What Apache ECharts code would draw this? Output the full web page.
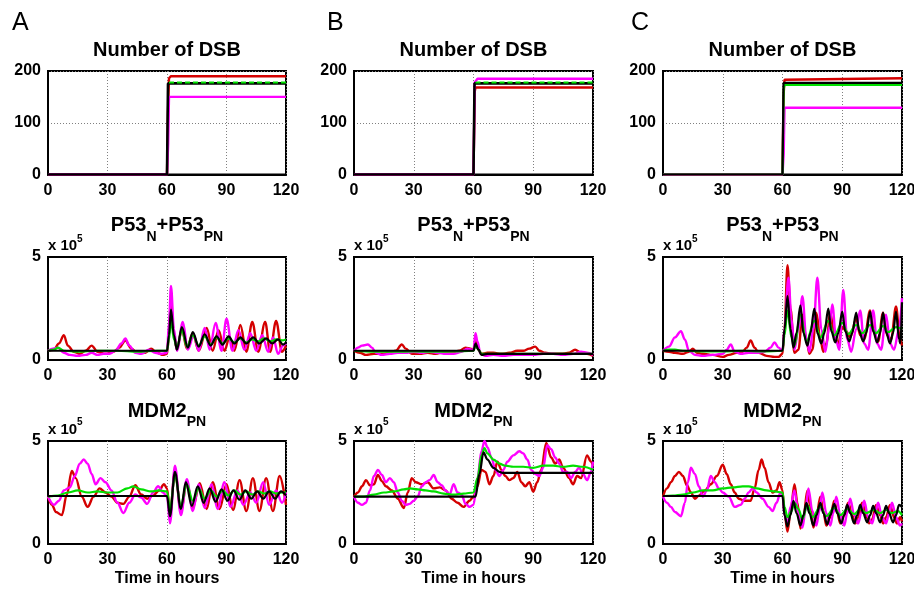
<!DOCTYPE html>
<html><head><meta charset="utf-8">
<script src="https://cdn.jsdelivr.net/npm/echarts@6/dist/echarts.min.js"></script>
<style>html,body{margin:0;padding:0;background:#fff}#c{width:914px;height:591px}</style>
</head><body><div id="c"></div>
<script>
// ---------- tick / label data ----------
const timeTicks = [0, 30, 60, 90, 120];
const dsbRange = [0, 200, 100];      // min, max, interval
const concRange = [0, 5, 5];         // in units of 1e5
const panelLetters = ['A', 'B', 'C'];
const rowTitles = ['Number of DSB', 'P53N+P53PN', 'MDM2PN'];
const xAxisName = 'Time in hours';

// ---------- Row 1: Number of DSB ----------
const A_dsb_red = [[0,0],[60,0],[60.5,120],[61,186],[62,190],[120,190]];
const A_dsb_mag = [[0,0],[60,0],[60.6,60],[61,150],[120,150]];
const A_dsb_blk = [[0,0],[60,0],[60.5,176],[120,176]];
const A_dsb_grn = [[61,178],[120,178]];

const B_dsb_red = [[0,0],[60,0],[60.6,160],[61,168],[120,168]];
const B_dsb_mag = [[0,0],[60,0],[60.6,178],[62,185],[120,185]];
const B_dsb_blk = [[0,0],[60,0],[60.5,176],[120,176]];
const B_dsb_grn = [[61,178],[120,178]];

const C_dsb_red = [[0,0],[60,0],[60.5,150],[61,183],[62,186],[120,186]];
const C_dsb_mag = [[0,0],[60,0],[60.6,40],[61,129],[120,129]];
const C_dsb_grn = [[0,0],[60,0],[60.6,165],[61,173],[120,173]];
const C_dsb_blk = [[0,0],[60,0],[60.5,177],[120,177]];

// ---------- Row 2: P53N + P53PN (x 1e5) ----------
const A_p53_red = [[0,0.45],[3,0.5],[5.5,0.8],[8,1.2],[10,0.7],[13,0.4],[16,0.3],[19,0.45],[22,0.7],[25,0.4],[29,0.3],[33,0.4],[36,0.6],[39,0.95],[42,0.55],[45,0.35],[49,0.35],[52,0.55],[55,0.35],[58,0.25],[60,0.3],[61,1.2],[62,2.7],[63.5,1.2],[65,0.5],[67.5,1.5],[70,0.55],[73,1.3],[76,0.45],[80,1.55],[83,0.45],[86,1.45],[89,0.45],[91.5,1.1],[94,0.45],[97,1.7],[100,0.4],[103,1.85],[106,0.4],[109.5,1.85],[112,0.4],[115,1.9],[118,0.4],[120,0.7]];
const A_p53_mag = [[0,0.45],[2.5,0.55],[5,0.6],[8,0.35],[11,0.25],[15,0.2],[19,0.25],[22,0.35],[25,0.25],[28,0.3],[31,0.3],[34,0.45],[37,0.8],[39,1.05],[41,0.7],[44,0.35],[47,0.3],[51,0.5],[54,0.35],[57,0.3],[60,0.35],[61,1.8],[62,3.6],[63.5,1.5],[65,0.45],[68,1.85],[70.5,0.5],[73.5,1.2],[76,0.45],[79,1.55],[81.5,0.5],[84.5,1.8],[87.5,0.45],[90,2.0],[93,0.45],[96,1.45],[99,0.5],[102,1.3],[105,0.45],[108,1.2],[111,0.4],[113.5,1.1],[116,0.3],[118.5,0.7],[120,0.8]];
const A_p53_grn = [[0,0.45],[3,0.5],[5,0.6],[8,0.45],[15,0.4],[25,0.45],[35,0.45],[45,0.4],[55,0.45],[60,0.45],[61,1.0],[62,2.0],[63.5,1.0],[65,0.6],[67.5,1.45],[70,0.65],[73,1.2],[76,0.7],[79,1.15],[82,0.75],[85,1.1],[88,0.8],[91,1.05],[94,0.85],[97,1.05],[100,0.85],[103,1.0],[106,0.9],[109,1.05],[112,0.9],[115,1.0],[118,0.95],[120,1.0]];
const A_p53_blk = [[0,0.45],[60,0.45],[61,1.2],[62,2.45],[63.5,1.2],[65,0.5],[67.5,1.6],[70.5,0.6],[73,1.35],[76,0.65],[79,1.25],[82,0.7],[85,1.15],[88,0.75],[91,1.15],[94,0.8],[97,1.1],[100,0.8],[103.5,1.1],[106.5,0.8],[110,1.05],[113,0.8],[116,1.0],[118.5,0.75],[120,0.85]];

const B_p53_red = [[0,0.45],[3,0.35],[6,0.25],[10,0.3],[14,0.3],[18,0.35],[21,0.45],[24,0.75],[26,0.55],[29,0.3],[33,0.3],[37,0.35],[41,0.3],[45,0.4],[49,0.35],[53,0.45],[56,0.6],[58.5,0.55],[60,0.5],[61,0.9],[62.5,0.5],[64,0.3],[67,0.35],[70,0.35],[74,0.3],[78,0.35],[82,0.45],[85,0.45],[88,0.55],[91,0.65],[93,0.45],[96,0.35],[100,0.3],[104,0.3],[108,0.35],[111,0.5],[114,0.35],[117,0.3],[120,0.2]];
const B_p53_mag = [[0,0.45],[2,0.6],[4,0.7],[7,0.75],[9,0.6],[11,0.35],[14,0.25],[18,0.3],[22,0.35],[26,0.35],[30,0.4],[34,0.35],[38,0.4],[42,0.35],[46,0.3],[50,0.3],[54,0.4],[57,0.55],[59,0.5],[60,0.5],[61,1.3],[62,0.9],[63.5,0.3],[66,0.2],[70,0.25],[75,0.2],[80,0.25],[85,0.25],[90,0.25],[95,0.3],[100,0.3],[105,0.25],[110,0.3],[114,0.4],[117,0.35],[120,0.25]];
const B_p53_grn = [[0,0.45],[10,0.4],[20,0.4],[30,0.42],[40,0.4],[50,0.42],[60,0.45],[61,0.7],[62.5,0.5],[64,0.3],[70,0.3],[80,0.3],[90,0.3],[100,0.3],[110,0.3],[120,0.3]];
const B_p53_blk = [[0,0.45],[60,0.45],[61,0.8],[62.5,0.5],[64,0.25],[67,0.3],[120,0.3]];

const C_p53_red = [[0,0.45],[3,0.4],[6,0.35],[10,0.3],[13,0.4],[15,0.55],[17,0.35],[20,0.3],[25,0.25],[30,0.15],[33,0.25],[37,0.35],[40,0.4],[42,0.6],[44,0.95],[46,0.6],[48,0.35],[52,0.2],[56,0.15],[58,0.15],[60,0.3],[61,1.5],[62.5,4.6],[64,2.5],[66,0.35],[68,0.5],[70,2.2],[72,1.0],[73.5,0.3],[75,0.5],[77,2.3],[79,1.0],[80.5,0.4],[82,0.8],[84,2.3],[86,1.2],[88,0.8],[90,1.6],[92,1.4],[94,1.1],[97,2.0],[99,1.2],[101,1.0],[104,2.4],[106,1.3],[108,0.9],[110.5,2.3],[112.5,1.2],[114.5,1.0],[117,2.6],[119,1.0],[120,0.7]];
const C_p53_mag = [[0,0.45],[3,0.65],[6,1.1],[9,1.4],[11,1.0],[13,0.45],[16,0.25],[20,0.2],[25,0.25],[30,0.3],[32,0.5],[34,0.75],[36,0.4],[39,0.3],[43,0.35],[47,0.35],[51,0.4],[54,0.6],[56,0.85],[58,0.6],[60,0.45],[61,1.5],[63,4.0],[64.5,2.0],[66,0.5],[68,1.5],[70,3.1],[72,1.0],[73.5,0.4],[75.5,1.5],[77.5,4.0],[79.5,1.5],[81.5,0.4],[83.5,1.6],[85,2.7],[87,0.9],[88.5,0.5],[90.5,3.4],[92.5,1.0],[94.5,0.4],[97,1.5],[99,2.4],[101,0.8],[103,0.5],[105.5,2.4],[107.5,0.8],[109.5,0.5],[112,2.2],[114,0.8],[116,0.5],[118.5,1.5],[120,3.0]];
const C_p53_grn = [[0,0.45],[3,0.5],[6,0.5],[10,0.45],[20,0.42],[30,0.42],[40,0.45],[50,0.42],[60,0.45],[61,1.2],[62.5,2.4],[64.5,1.1],[66,0.7],[69,2.2],[72,0.9],[76,1.9],[79,1.1],[83,1.9],[86,1.2],[90,1.8],[93,1.25],[97,1.7],[100,1.3],[104,1.7],[107,1.3],[110.5,1.65],[113,1.35],[117,1.6],[120,1.5]];
const C_p53_blk = [[0,0.45],[60,0.45],[61,1.5],[62.5,3.1],[64,1.5],[65.5,0.6],[67,1.3],[69,2.65],[70.5,1.3],[72.5,0.7],[74,1.3],[76,2.5],[77.5,1.3],[79.5,0.8],[81,1.3],[83,2.5],[84.5,1.4],[86.5,0.85],[88,1.3],[90,2.35],[91.5,1.4],[93.5,0.9],[95,1.3],[97,2.3],[98.5,1.4],[100.5,0.9],[102,1.3],[104,2.35],[105.5,1.4],[107.5,0.85],[109,1.3],[110.5,2.3],[112,1.35],[114,0.8],[115.5,1.3],[117,2.35],[118.5,1.0],[119.2,0.8],[120,2.8]];

// ---------- Row 3: MDM2PN (x 1e5) ----------
const A_mdm_red = [[0,2.3],[2,1.9],[4,1.55],[7,1.4],[9.5,2.4],[12,3.55],[14,3.2],[17,2.3],[20,1.8],[23,2.3],[26,2.7],[29,2.5],[32,2.3],[35,2.0],[38,1.95],[41,2.3],[44,2.85],[47,2.4],[50,2.2],[53,2.35],[56,2.6],[58.5,2.9],[60,2.7],[61.5,1.5],[64,3.55],[67,1.6],[70,3.0],[73,1.75],[76.5,2.95],[80,1.7],[83,3.0],[86.5,1.7],[90,2.9],[93.3,1.65],[96.6,3.1],[100,1.6],[103.3,3.2],[106.6,1.6],[110,3.2],[113.4,1.6],[116.8,3.3],[120,1.9]];
const A_mdm_mag = [[0,2.3],[3,1.9],[5.5,2.1],[8,2.6],[11,2.75],[13.5,3.3],[16,3.9],[18,4.1],[20,3.9],[22,3.4],[24,2.9],[26.5,3.2],[29,3.0],[32,2.6],[35,2.0],[38,1.5],[41,2.0],[44,2.4],[47,2.25],[50,1.95],[53,2.5],[55.5,2.8],[58,2.5],[60,2.3],[61.5,1.0],[64,3.8],[67,1.4],[70,3.15],[73,1.6],[76,2.9],[79,1.75],[82.5,2.9],[85.5,1.7],[89,3.0],[92,1.8],[95.5,2.6],[98.5,1.9],[102,2.5],[105,2.0],[108.5,3.0],[111.5,1.9],[115,2.6],[118,2.0],[120,2.5]];
const A_mdm_grn = [[0,2.3],[5,2.35],[10,2.5],[15,2.6],[20,2.5],[25,2.55],[30,2.5],[35,2.5],[40,2.7],[43,2.8],[47,2.65],[52,2.55],[56,2.6],[60,2.55],[61.5,1.7],[64,3.3],[67,1.9],[70,2.9],[73,2.1],[76,2.7],[79,2.2],[82,2.6],[85,2.3],[88,2.6],[91,2.35],[94,2.6],[97,2.4],[100,2.55],[103,2.4],[106,2.55],[109,2.45],[112,2.55],[115,2.45],[118,2.5],[120,2.5]];
const A_mdm_blk = [[0,2.33],[60,2.33],[61.5,1.35],[64,3.5],[67,1.7],[69.5,3.0],[72.5,1.85],[75.5,2.8],[78.5,2.0],[81.5,2.7],[84.5,2.05],[87.5,2.65],[90.5,2.1],[93.5,2.6],[96.5,2.15],[99.5,2.6],[102.5,2.2],[105.5,2.55],[108.5,2.2],[111.5,2.55],[114.5,2.2],[117.5,2.55],[120,2.35]];

const B_mdm_red = [[0,2.3],[2,2.5],[4,2.8],[6,3.1],[8,2.85],[10,2.9],[12,3.35],[14,3.05],[16,2.8],[19,2.6],[22,2.2],[25,1.75],[27,2.5],[29,3.2],[31,3.0],[34,2.9],[37,3.0],[40,2.7],[43,2.75],[46,2.6],[49,2.2],[52,2.0],[55,1.8],[58,2.1],[60,2.3],[62,2.8],[64,3.6],[66,3.5],[68,2.9],[70,3.3],[72,4.0],[74,3.6],[76,3.3],[78,3.1],[80,3.2],[82,3.5],[84,3.0],[86,2.8],[88,3.0],[90,2.55],[92,3.0],[94,3.6],[96.5,4.9],[99,4.2],[101,3.9],[103,4.1],[105,3.7],[108,3.2],[110,2.9],[112,3.3],[114,3.2],[117,4.3],[119,4.0],[120,3.8]];
const B_mdm_mag = [[0,2.3],[2,2.0],[4,1.9],[6,2.0],[8,2.6],[10,3.3],[12,3.6],[14,3.35],[16,3.0],[18,3.2],[20,3.0],[22,2.5],[24,2.1],[26,1.9],[28,1.95],[30,2.1],[32,2.3],[34,2.8],[36,3.0],[38,3.1],[40,3.35],[42,3.0],[44,2.85],[46,2.6],[48,2.4],[50,2.9],[52,2.5],[54,2.4],[56,1.95],[58,1.8],[60,1.9],[62,3.2],[64,4.5],[65.5,5.0],[67,4.7],[69,4.2],[71,3.6],[73,3.3],[75,3.6],[77,4.0],[80,4.3],[83,4.5],[85,4.4],[87,4.1],[89,3.6],[91,3.4],[93,3.3],[95,3.7],[97,4.8],[99,4.6],[101,4.2],[103,3.9],[105,3.5],[107,3.5],[109,3.2],[111,3.5],[113,3.7],[115,3.4],[117,3.1],[119,3.5],[120,4.0]];
const B_mdm_grn = [[0,2.3],[5,2.3],[10,2.4],[15,2.5],[20,2.55],[25,2.65],[28,2.7],[32,2.65],[36,2.6],[40,2.55],[45,2.45],[50,2.4],[55,2.45],[60,2.5],[62,3.2],[64,4.3],[65.5,4.65],[67,4.4],[70,4.1],[73,3.9],[76,3.8],[80,3.75],[85,3.75],[90,3.7],[95,3.8],[100,3.8],[105,3.75],[110,3.8],[115,3.75],[120,3.6]];
const B_mdm_blk = [[0,2.3],[61,2.3],[63,3.4],[65,4.45],[67,4.1],[70,3.7],[73,3.5],[75,3.45],[120,3.45]];

const C_mdm_red = [[0,2.3],[2,2.7],[4,3.0],[6,3.3],[8,3.5],[10,3.3],[12,2.85],[14,2.5],[16,2.2],[18,2.35],[21,2.6],[24,2.9],[27,3.3],[30,3.85],[32,3.4],[34,2.9],[36,2.5],[38,2.2],[41,2.1],[44,2.1],[46,2.7],[48,3.6],[49.5,4.1],[51,3.7],[53,3.0],[55,2.5],[57,2.6],[58.5,3.0],[60,2.6],[61,1.5],[62.5,0.6],[64,1.5],[66,2.9],[67.5,2.0],[69,0.75],[70.5,1.3],[72.5,2.6],[74,1.8],[75.5,0.8],[77,1.3],[79,2.3],[80.5,1.6],[82,0.9],[84,1.3],[86,2.1],[87.5,1.5],[89,1.0],[91,1.4],[93,2.0],[95,1.4],[96.5,1.0],[98,1.3],[100,2.0],[102,1.4],[103.5,1.0],[105,1.2],[107,1.9],[109,1.4],[110.5,1.0],[112,1.3],[114,1.9],[116,1.3],[117.5,1.0],[119,1.3],[120,1.1]];
const C_mdm_mag = [[0,2.3],[2,2.0],[4,1.8],[6,1.55],[9,1.35],[11,2.0],[12.5,3.0],[14,3.7],[16,3.4],[18,2.8],[20,2.3],[22,2.6],[24,3.3],[26,3.0],[28,2.7],[30,2.5],[33,2.3],[36,1.8],[39,1.9],[41,2.2],[43,2.5],[45,2.7],[47,2.5],[50,2.2],[53,1.8],[55,1.6],[57,2.0],[59,2.5],[60,2.4],[61,1.4],[62.5,1.0],[64,1.8],[66,2.6],[68,1.5],[70,0.8],[71.5,1.6],[73,2.7],[75,1.6],[77,0.9],[78.5,1.6],[80,2.5],[82,1.5],[84,0.9],[85.5,1.5],[87,2.3],[89,1.4],[91,0.9],[92.5,1.5],[94,2.2],[96,1.4],[98,1.0],[99.5,1.5],[101,2.1],[103,1.3],[105,1.0],[106.5,1.5],[108,2.0],[110,1.3],[112,1.0],[113.5,1.5],[115,2.0],[117,1.3],[119,0.9],[120,1.0]];
const C_mdm_grn = [[0,2.33],[5,2.35],[10,2.4],[15,2.5],[20,2.6],[25,2.6],[30,2.7],[35,2.75],[40,2.8],[43,2.8],[47,2.7],[52,2.6],[56,2.55],[60,2.5],[61,1.8],[62.5,1.3],[64.5,1.6],[66,2.0],[68,1.7],[70,1.2],[72.5,1.9],[75,1.3],[79,1.8],[82,1.35],[86,1.75],[89,1.4],[92.5,1.7],[96,1.45],[99,1.7],[102,1.5],[106,1.65],[109,1.5],[112,1.65],[115,1.5],[118,1.6],[120,1.4]];
const C_mdm_blk = [[0,2.33],[60,2.33],[61,1.4],[62.5,0.85],[64,1.4],[65.5,2.1],[67,1.5],[69,0.9],[70.5,1.4],[72,2.0],[73.5,1.5],[75.5,0.9],[77,1.4],[79,2.0],[80.5,1.5],[82.5,0.95],[84,1.4],[86,1.95],[87.5,1.5],[89.5,1.0],[91,1.4],[92.5,1.9],[94,1.5],[96,1.0],[97.5,1.4],[99,1.9],[100.5,1.5],[102.5,1.05],[104,1.4],[105.5,1.85],[107,1.5],[109,1.05],[110.5,1.4],[112,1.85],[113.5,1.5],[115.5,1.05],[117,1.4],[118.5,1.9],[120,1.8]];

// ---------- layout / style ----------
const FONT = 'Arial, "Liberation Sans", Helvetica, sans-serif';
const COL = { red: '#d40000', mag: '#ff00ff', grn: '#00e000', blk: '#000000' };
const colLeft = [48, 354, 663];
const colWidth = [238, 239, 239];
const rowTop = [71, 257, 441];
const rowHeight = [103.5, 103, 103];

const panels = [
  [ {red:A_dsb_red, mag:A_dsb_mag, blk:A_dsb_blk, grn:A_dsb_grn, dsb:true},
    {red:A_p53_red, mag:A_p53_mag, grn:A_p53_grn, blk:A_p53_blk},
    {red:A_mdm_red, mag:A_mdm_mag, grn:A_mdm_grn, blk:A_mdm_blk} ],
  [ {red:B_dsb_red, mag:B_dsb_mag, blk:B_dsb_blk, grn:B_dsb_grn, dsb:true},
    {red:B_p53_red, mag:B_p53_mag, grn:B_p53_grn, blk:B_p53_blk},
    {red:B_mdm_red, mag:B_mdm_mag, grn:B_mdm_grn, blk:B_mdm_blk} ],
  [ {red:C_dsb_red, mag:C_dsb_mag, grn:C_dsb_grn, blk:C_dsb_blk, dsb:true, greenUnder:true},
    {red:C_p53_red, mag:C_p53_mag, grn:C_p53_grn, blk:C_p53_blk},
    {red:C_mdm_red, mag:C_mdm_mag, grn:C_mdm_grn, blk:C_mdm_blk} ]
];

const grids = [], xAxes = [], yAxes = [], series = [], graphics = [];
const labelStyle = { fontSize: 16, fontWeight: 'bold', color: '#000', fontFamily: FONT };
const dotted = { color: '#808080', width: 1, type: [1, 2] };

for (let c = 0; c < 3; c++) {
  for (let r = 0; r < 3; r++) {
    const gi = grids.length;
    const p = panels[c][r];
    grids.push({ left: colLeft[c], top: rowTop[r], width: colWidth[c], height: rowHeight[r],
      show: true, borderColor: '#000', borderWidth: 2, backgroundColor: 'transparent',
      containLabel: false, outerBoundsMode: 'none' });
    xAxes.push({ type: 'value', gridIndex: gi, min: timeTicks[0], max: timeTicks[timeTicks.length - 1],
      interval: timeTicks[1] - timeTicks[0],
      axisLine: { show: true, onZero: false, lineStyle: { color: '#000', width: 2 } },
      axisTick: { show: false },
      axisLabel: Object.assign({ margin: 8 }, labelStyle),
      splitLine: { show: true, lineStyle: dotted } });
    const rng = r === 0 ? dsbRange : concRange;
    yAxes.push({ type: 'value', gridIndex: gi, min: rng[0], max: rng[1], interval: rng[2],
      axisLine: { show: true, lineStyle: { color: '#000', width: 2 } },
      axisTick: { show: false },
      axisLabel: Object.assign({ margin: 7 }, labelStyle),
      splitLine: { show: r === 0, lineStyle: dotted } });
    const base = { type: 'line', xAxisIndex: gi, yAxisIndex: gi, showSymbol: false, symbol: 'none',
      animation: false, silent: true, smooth: p.dsb ? false : 0.35, smoothMonotone: 'x' };
    const add = (d, color, w, extra) => series.push(Object.assign({}, base, { data: d,
      lineStyle: Object.assign({ color: color, width: w }, extra || {}), itemStyle: { color: color } }));
    add(p.red, COL.red, 2.4);
    add(p.mag, COL.mag, 2.4);
    if (p.dsb && !p.greenUnder) {
      add(p.blk, COL.blk, 2.6);
      add(p.grn, COL.grn, 2, { type: [5, 3] });
    } else {
      add(p.grn, COL.grn, 2.2);
      add(p.blk, COL.blk, 2.2);
    }
  }
}

// text elements
const cx = c => colLeft[c] + colWidth[c] / 2;
for (let c = 0; c < 3; c++) {
  graphics.push({ type: 'text', x: [12, 327, 631][c], y: 23.5, silent: true,
    style: { text: panelLetters[c], fontSize: 25, fontFamily: FONT, fill: '#000', align: 'left', verticalAlign: 'middle' } });
  graphics.push({ type: 'text', x: cx(c), y: 50, silent: true,
    style: { text: rowTitles[0], fontSize: 20, fontWeight: 'bold', fontFamily: FONT, fill: '#000', align: 'center', verticalAlign: 'middle' } });
  const bRich = { fontSize: 20, fontWeight: 'bold', fontFamily: FONT, lineHeight: 20, verticalAlign: 'top' };
  graphics.push({ type: 'text', x: cx(c), y: 215, silent: true,
    style: { text: '{b|P53}{s|N}{b|+P53}{s|PN}', fill: '#000', align: 'center', verticalAlign: 'top',
      rich: { b: bRich, s: { fontSize: 14, fontWeight: 'bold', fontFamily: FONT, lineHeight: 45, verticalAlign: 'middle' } } } });
  graphics.push({ type: 'text', x: cx(c), y: 401, silent: true,
    style: { text: '{b|MDM2}{s|PN}', fill: '#000', align: 'center', verticalAlign: 'top',
      rich: { b: bRich, s: { fontSize: 14, fontWeight: 'bold', fontFamily: FONT, lineHeight: 43, verticalAlign: 'middle' } } } });
  [[246, 239.5], [430, 422.5]].forEach(([y1, y2]) => {
    graphics.push({ type: 'text', x: colLeft[c], y: y1, silent: true,
      style: { text: 'x 10', fontSize: 15, fontWeight: 'bold', fontFamily: FONT, fill: '#000', align: 'left', verticalAlign: 'middle' } });
    graphics.push({ type: 'text', x: colLeft[c] + 29, y: y2, silent: true,
      style: { text: '5', fontSize: 10, fontWeight: 'bold', fontFamily: FONT, fill: '#000', align: 'left', verticalAlign: 'middle' } });
  });
  graphics.push({ type: 'text', x: cx(c), y: 579, silent: true,
    style: { text: xAxisName, fontSize: 16, fontWeight: 'bold', fontFamily: FONT, fill: '#000', align: 'center', verticalAlign: 'middle' } });
}

const chart = echarts.init(document.getElementById('c'), null, { renderer: 'canvas' });
chart.setOption({
  backgroundColor: '#fff',
  animation: false,
  grid: grids, xAxis: xAxes, yAxis: yAxes, series: series, graphic: graphics
});
</script>
</body></html>
